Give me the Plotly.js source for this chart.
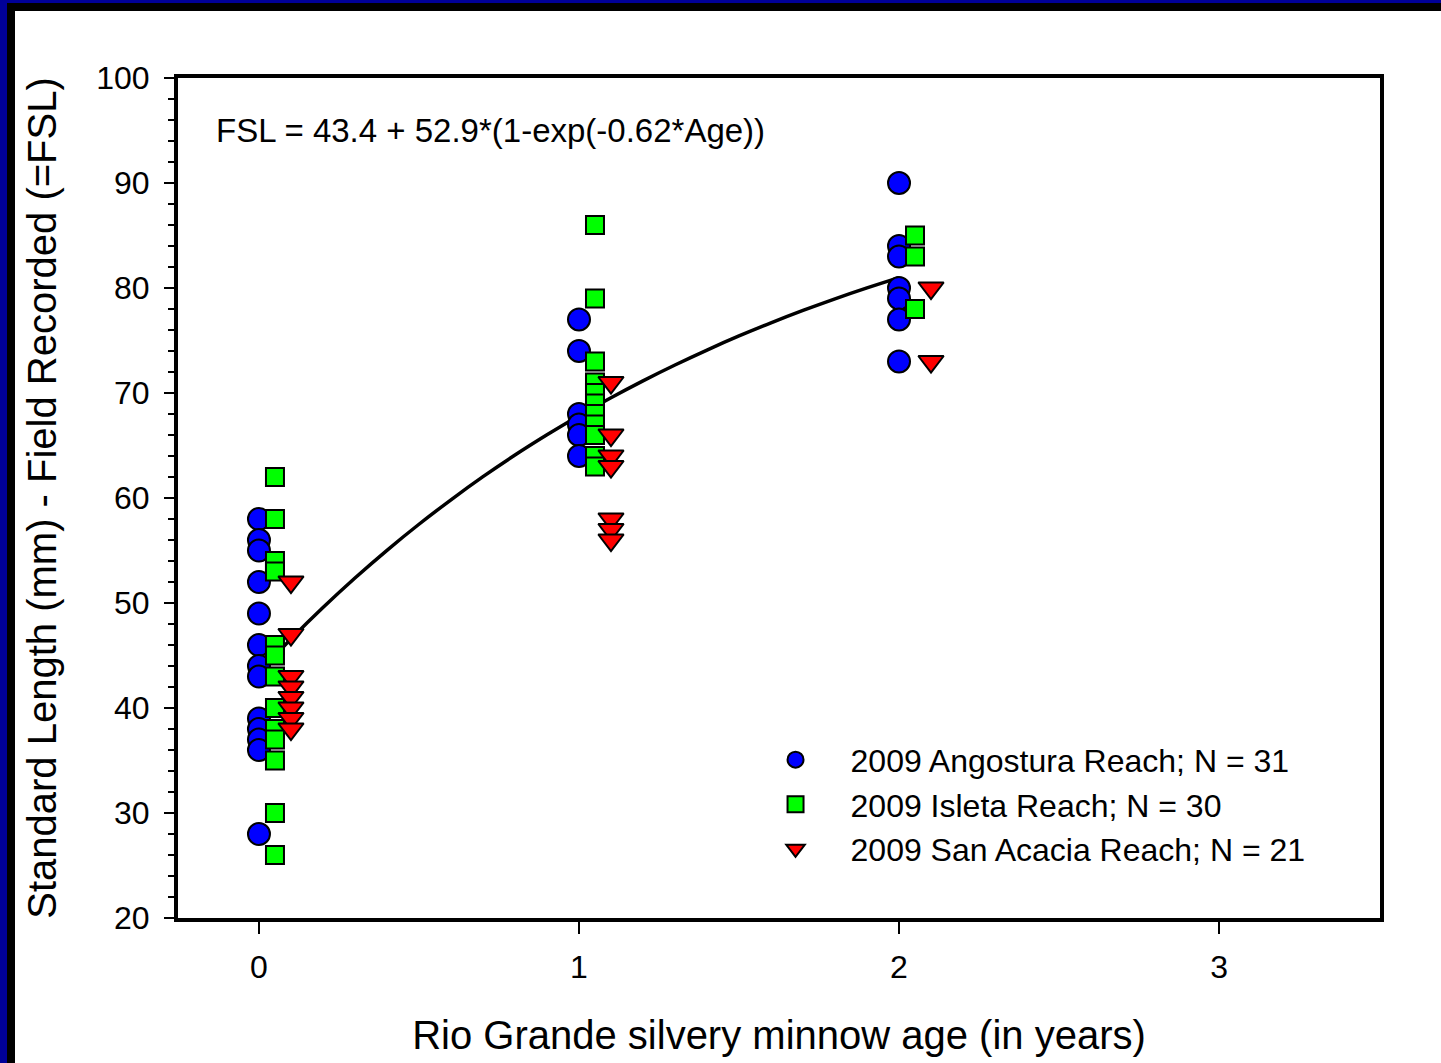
<!DOCTYPE html>
<html>
<head>
<meta charset="utf-8">
<script src="https://cdn.plot.ly/plotly-3.0.1.min.js"></script>
<style>
  html, body { margin: 0; padding: 0; background: #ffffff; }
  #wrap { position: relative; width: 1441px; height: 1063px; overflow: hidden; }
  #chart { position: absolute; left: 0; top: 0; width: 1441px; height: 1063px; }
  .bar { position: absolute; pointer-events: none; }
</style>
</head>
<body>
<div id="wrap">
  <div id="chart"></div>
  <div class="bar" style="left:0;top:0;width:1441px;height:3px;background:#000099"></div>
  <div class="bar" style="left:7px;top:3px;width:1434px;height:8px;background:#000000"></div>
  <div class="bar" style="left:0;top:0;width:7px;height:1063px;background:#000099"></div>
  <div class="bar" style="left:7px;top:3px;width:8px;height:1060px;background:#000000"></div>
</div>
<script>
// Angostura Reach (circles)
const angAge = [0,0,0,0,0,0,0,0,0,0,0,0,0, 1,1,1,1,1,1, 2,2,2,2,2,2,2];
const angSL  = [58,56,55,52,49,46,44,43,39,38,37,36,28, 77,74,68,67,66,64, 90,84,83,80,79,77,73];

// Isleta Reach (squares)
const islAge = [0.05,0.05,0.05,0.05,0.05,0.05,0.05,0.05,0.05,0.05,0.05,0.05,0.05,
                1.05,1.05,1.05,1.05,1.05,1.05,1.05,1.05,1.05,1.05,1.05,
                2.05,2.05,2.05];
const islSL  = [62,58,54,53,46,45,43,40,38,37,35,30,26,
                86,79,73,71,70,69,68,67,66,64,63,
                85,83,78];

// San Acacia Reach (triangles)
const sanAge = [0.1,0.1,0.1,0.1,0.1,0.1,0.1,0.1, 1.1,1.1,1.1,1.1,1.1,1.1,1.1, 2.1,2.1];
const sanSL  = [52,47,43,42,41,40,39,38, 71,66,64,63,58,57,56, 80,73];

// Fitted curve FSL = 43.4 + 52.9*(1-exp(-0.62*Age))
const fitAge = [0,0.1,0.2,0.3,0.4,0.5,0.6,0.7,0.8,0.9,1.0,1.1,1.2,1.3,1.4,1.5,1.6,1.7,1.8,1.9,2.0];
const fitSL  = [43.40,46.58,49.57,52.38,55.02,57.50,59.83,62.03,64.09,66.02,67.84,69.55,71.16,72.67,74.09,75.43,76.68,77.86,78.97,80.01,80.99];

const seriesNames = ["2009 Angostura Reach; N = 31", "2009 Isleta Reach; N = 30", "2009 San Acacia Reach; N = 21"];
const xTickVals = [0,1,2,3];
const yTickVals = [20,30,40,50,60,70,80,90,100];

const FONT = "Arial, 'Liberation Sans', sans-serif";

const traces = [
  {
    x: fitAge, y: fitSL, mode: "lines", type: "scatter",
    line: { color: "#000000", width: 3.5, shape: "spline" },
    showlegend: false, hoverinfo: "skip"
  },
  {
    x: angAge, y: angSL, mode: "markers", type: "scatter", name: seriesNames[0],
    marker: { symbol: "circle", size: 22, color: "#0000ff", line: { color: "#000000", width: 2 } }
  },
  {
    x: islAge, y: islSL, mode: "markers", type: "scatter", name: seriesNames[1],
    marker: { symbol: "square", size: 18, color: "#00ff00", line: { color: "#000000", width: 2 } }
  },
  {
    x: sanAge, y: sanSL, mode: "markers", type: "scatter", name: seriesNames[2],
    marker: { symbol: "triangle-down", size: 22, color: "#ff0000", line: { color: "#000000", width: 2 } }
  }
];

const layout = {
  width: 1441, height: 1063,
  paper_bgcolor: "#ffffff", plot_bgcolor: "#ffffff",
  margin: { l: 178, r: 61, t: 78, b: 145, pad: 0 },
  font: { family: FONT, color: "#000000", size: 28 },
  showlegend: true,
  legend: {
    x: 0.468, y: 0.221, xanchor: "left", yanchor: "top",
    bgcolor: "rgba(0,0,0,0)", borderwidth: 0,
    font: { family: FONT, size: 32, color: "#000000" },
    tracegroupgap: 0, itemwidth: 100
  },
  xaxis: {
    range: [-0.253, 3.503],
    tickvals: xTickVals, ticktext: xTickVals.map(String),
    ticks: "outside", ticklen: 12, tickwidth: 2, tickcolor: "#000000",
    ticklabelstandoff: 6,
    showline: true, linecolor: "#000000", linewidth: 4, mirror: true,
    showgrid: false, zeroline: false,
    tickfont: { family: FONT, size: 32 },
    title: { text: "Rio Grande silvery minnow age (in years)", font: { family: FONT, size: 40 }, standoff: 38 }
  },
  yaxis: {
    range: [20, 100],
    tickvals: yTickVals, ticktext: yTickVals.map(String),
    ticks: "outside", ticklen: 10, tickwidth: 2, tickcolor: "#000000",
    minor: { dtick: 2, ticks: "outside", ticklen: 6, tickwidth: 2, tickcolor: "#000000" },
    showline: true, linecolor: "#000000", linewidth: 4, mirror: true,
    showgrid: false, zeroline: false,
    ticklabelstandoff: 8,
    tickfont: { family: FONT, size: 32 },
    title: { text: "Standard Length (mm) - Field Recorded (=FSL)", font: { family: FONT, size: 40 }, standoff: 28 }
  },
  annotations: [
    {
      text: "FSL = 43.4 + 52.9*(1-exp(-0.62*Age))",
      xref: "paper", yref: "paper", x: 0.03, y: 0.938, xanchor: "left", yanchor: "middle",
      showarrow: false, font: { family: FONT, size: 33, color: "#000000" }
    }
  ]
};

Plotly.newPlot("chart", traces, layout, { displayModeBar: false, staticPlot: true });
</script>
</body>
</html>
